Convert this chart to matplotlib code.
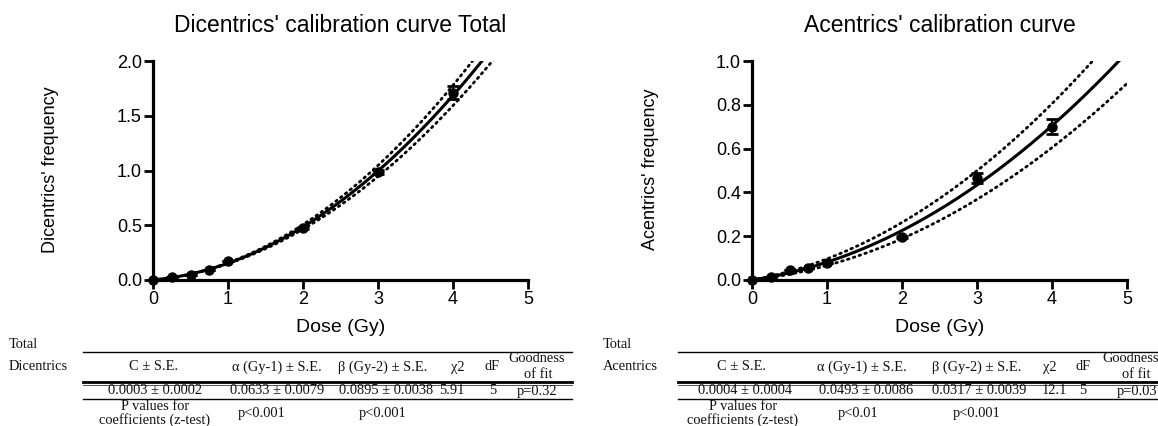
import numpy as np
import matplotlib
matplotlib.use("Agg")
import matplotlib.pyplot as plt
from matplotlib.lines import Line2D

# ---------------- data ----------------
dose = [0, 0.25, 0.5, 0.75, 1, 2, 3, 4]
dic_freq = [0.0, 0.025, 0.05, 0.095, 0.175, 0.475, 0.985, 1.71]
dic_err = [0, 0, 0, 0, 0, 0.01, 0.02, 0.06]
ace_freq = [0.0, 0.015, 0.045, 0.057, 0.078, 0.198, 0.464, 0.700]
ace_err = [0, 0, 0, 0, 0, 0.005, 0.023, 0.035]

# fitted coefficients (C, alpha, beta) from the tables
dic_coef = [0.0003, 0.0633, 0.0895]
ace_coef = [0.0004, 0.0493, 0.0317]
# confidence-band half-width coefficients (per D, per D^2)
dic_band = [-0.002, 0.0063]
ace_band = [0.0119, 0.0033]

titles = ["Dicentrics' calibration curve Total", "Acentrics' calibration curve"]
ylabels = ["Dicentrics' frequency", "Acentrics' frequency"]
xlabel = "Dose (Gy)"
xticks = [0, 1, 2, 3, 4, 5]
dic_yticks = [0.0, 0.5, 1.0, 1.5, 2.0]
ace_yticks = [0.0, 0.2, 0.4, 0.6, 0.8, 1.0]

# table texts
tbl_header = ["C \u00b1 S.E.", "\u03b1 (Gy-1) \u00b1 S.E.", "\u03b2 (Gy-2) \u00b1 S.E.", "\u03c72", "dF"]
tbl_gof = ["Goodness", "of fit"]
dic_row = ["0.0003 \u00b1 0.0002", "0.0633 \u00b1 0.0079", "0.0895 \u00b1 0.0038", "5.91", "5", "p=0.32"]
ace_row = ["0.0004 \u00b1 0.0004", "0.0493 \u00b1 0.0086", "0.0317 \u00b1 0.0039", "12.1", "5", "p=0.03"]
dic_p = ["p<0.001", "p<0.001"]
ace_p = ["p<0.01", "p<0.001"]
pval_label = ["P values for", "coefficients (z-test)"]
tbl_names = ["Dicentrics", "Acentrics"]

# ---------------- figure ----------------
W, H = 1158, 426
fig = plt.figure(figsize=(W / 100, H / 100), dpi=100)
plt.rcParams['font.family'] = ['Liberation Sans', 'DejaVu Sans']

def fx(x):
    return x / W

def fy(y):
    return 1 - y / H

ax_w = 375 / W
ax_h = 219 / H
axes = [fig.add_axes([fx(153), fy(280), ax_w, ax_h]),
        fig.add_axes([fx(752), fy(280), ax_w, ax_h])]

grid = np.linspace(0, 5, 400)

def model(c, D):
    D = np.asarray(D)
    return c[0] + c[1] * D + c[2] * D ** 2

def band(b, D):
    return b[0] * D + b[1] * D ** 2

sets = [(dic_freq, dic_err, dic_coef, dic_band, dic_yticks, "{:.1f}"),
        (ace_freq, ace_err, ace_coef, ace_band, ace_yticks, "{:.1f}")]

for i, (ax, (freq, err, coef, bnd, yt, fmt)) in enumerate(zip(axes, sets)):
    fit = model(coef, grid)
    hw = band(bnd, grid)
    ax.plot(grid, fit, color='black', lw=2.2, solid_capstyle='butt', zorder=3)
    for sgn in (1, -1):
        ax.plot(grid, fit + sgn * hw, color='black', lw=2.0,
                linestyle=(0, (0.6, 1.6)), dash_capstyle='round', zorder=2)
    ax.errorbar(dose, freq, yerr=err, fmt='o', color='black', ms=6.5,
                elinewidth=1.6, capsize=4, capthick=2, zorder=4, clip_on=False)
    ax.set_xlim(0, 5)
    ax.set_ylim(yt[0], yt[-1])
    ax.set_xticks(xticks)
    ax.set_xticklabels([str(t) for t in xticks])
    ax.set_yticks(yt)
    ax.set_yticklabels([fmt.format(t) for t in yt])
    for s in ('top', 'right'):
        ax.spines[s].set_visible(False)
    for s in ('left', 'bottom'):
        ax.spines[s].set_linewidth(2.3)
    ax.tick_params(axis='both', width=2.0, length=6.5, labelsize=13, pad=1.5,
                   direction='out', color='black')
    ax.set_xlabel(xlabel, fontsize=14)
    ax.xaxis.label.set_va('center')
    ax.xaxis.set_label_coords(0.5, -0.215)
    ax.set_ylabel(ylabels[i], fontsize=13)
    ax.yaxis.label.set_va('center')
    ax.yaxis.set_label_coords(-0.272, 0.505)
    ax.text(0.5, 1.164, titles[i], transform=ax.transAxes, ha='center',
            va='center', fontsize=16.5)

# ---------------- tables ----------------
serif = ['Liberation Serif', 'DejaVu Serif']
tfs = 10.4

def t(x, y, s, ha='center'):
    fig.text(fx(x), fy(y), s, ha=ha, va='center', fontsize=tfs,
             family=serif, color='#111111')

def hline(x0, x1, y, lw, color='black'):
    fig.add_artist(Line2D([fx(x0), fx(x1)], [fy(y), fy(y)], lw=lw,
                          color=color, transform=fig.transFigure))

tables = [
    dict(x_total=9, name=tbl_names[0], lx0=83, lx1=572,
         hx=[154, 277, 383, 458, 492], gx=[537, 538],
         vx=[155, 277, 386, 452, 493, 537], row=dic_row,
         px=[155, 262, 383], p=dic_p),
    dict(x_total=603, name=tbl_names[1], lx0=678, lx1=1158,
         hx=[742, 862, 977, 1050, 1083], gx=[1131, 1136],
         vx=[745, 866, 979, 1054, 1083, 1137], row=ace_row,
         px=[743, 858, 977], p=ace_p),
]

for tb in tables:
    t(tb['x_total'], 344, "Total", ha='left')
    t(tb['x_total'], 367, tb['name'], ha='left')
    hline(tb['lx0'], tb['lx1'], 352, 1.0)
    for x, s in zip(tb['hx'], tbl_header):
        t(x, 367, s)
    t(tb['gx'][0], 359, tbl_gof[0])
    t(tb['gx'][1], 375, tbl_gof[1])
    hline(tb['lx0'], tb['lx1'], 382.3, 2.0)
    hline(tb['lx0'], tb['lx1'], 385, 0.7, '#555555')
    for x, s in zip(tb['vx'], tb['row']):
        t(x, 391, s)
    hline(tb['lx0'], tb['lx1'], 399, 1.0)
    t(tb['px'][0], 406, pval_label[0])
    t(tb['px'][0], 420, pval_label[1])
    t(tb['px'][1], 414, tb['p'][0])
    t(tb['px'][2], 414, tb['p'][1])

fig.savefig("out.png", dpi=100)
